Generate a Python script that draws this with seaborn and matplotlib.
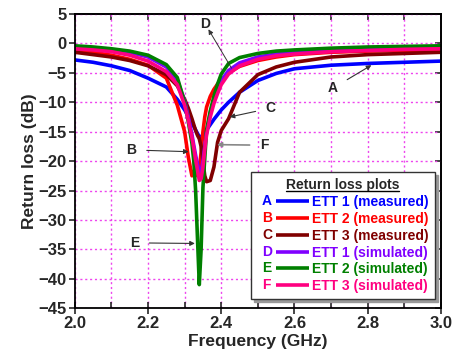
import matplotlib
matplotlib.use("Agg")
import matplotlib.pyplot as plt
import seaborn as sns
import pandas as pd
from matplotlib.lines import Line2D
from matplotlib.text import Text
from matplotlib.legend_handler import HandlerBase
from matplotlib.ticker import MultipleLocator

# ---------------- data ----------------
freq = [2.0, 2.05, 2.1, 2.15, 2.2, 2.25, 2.28, 2.3, 2.31, 2.32, 2.325, 2.33,
        2.335, 2.34, 2.345, 2.35, 2.355, 2.36, 2.37, 2.38, 2.39, 2.4, 2.42,
        2.45, 2.5, 2.55, 2.6, 2.7, 2.8, 2.9, 3.0]

ett1_meas = [-2.8, -3.2, -3.8, -4.6, -5.9, -7.4, -9.5, -11.3, -12.4, -13.5, -14.1, -14.7,
             -15.3, -15.8, -15.9, -15.6, -15.2, -14.7, -13.8, -12.9, -12.1, -11.3, -10.0,
             -8.3, -6.3, -5.1, -4.3, -3.7, -3.4, -3.2, -3.0]
ett2_meas = [-1.1, -1.5, -2.0, -2.7, -3.7, -5.9, -10.5, -15.0, -19.3, -22.5, -22.0, -21.0,
             -22.5, -21.5, -18.5, -15.0, -12.5, -10.8, -9.0, -7.8, -6.9, -6.3, -5.0,
             -3.9, -2.9, -2.3, -1.9, -1.5, -1.3, -1.2, -1.1]
ett3_meas = [-1.5, -1.9, -2.3, -2.9, -3.8, -5.3, -7.2, -9.5, -11.0, -12.8, -13.8, -14.8,
             -15.6, -16.2, -17.5, -20.0, -22.5, -23.5, -23.3, -21.0, -16.8, -14.8, -12.8,
             -8.3, -5.3, -4.0, -3.2, -2.3, -1.9, -1.7, -1.5]
ett1_sim = [-0.8, -0.9, -1.1, -1.5, -2.3, -4.0, -6.2, -9.8, -12.5, -15.5, -17.3, -19.0,
            -20.5, -21.8, -22.0, -20.0, -17.5, -15.0, -11.8, -9.5, -7.7, -6.3, -4.6,
            -3.3, -2.3, -1.8, -1.5, -1.1, -0.9, -0.8, -0.8]
ett2_sim = [-0.4, -0.6, -0.9, -1.3, -2.0, -3.6, -5.8, -10.0, -13.3, -17.0, -20.0, -25.0,
            -33.0, -41.0, -35.0, -24.5, -19.5, -14.7, -11.5, -9.0, -6.9, -5.2, -3.4,
            -2.4, -1.7, -1.3, -1.1, -0.8, -0.6, -0.5, -0.4]
ett3_sim = [-0.9, -1.1, -1.4, -2.0, -3.0, -4.8, -7.0, -10.5, -13.0, -16.0, -17.8, -19.8,
            -21.5, -23.3, -23.0, -21.0, -18.0, -15.5, -12.5, -10.2, -8.5, -7.0, -5.2,
            -3.8, -2.7, -2.1, -1.8, -1.4, -1.2, -1.0, -0.9]

letters = ["A", "B", "C", "D", "E", "F"]
labels = ["ETT 1 (measured)", "ETT 2 (measured)", "ETT 3 (measured)",
          "ETT 1 (simulated)", "ETT 2 (simulated)", "ETT 3 (simulated)"]
series = [ett1_meas, ett2_meas, ett3_meas, ett1_sim, ett2_sim, ett3_sim]
colors = ["#0000ff", "#ff0000", "#800000", "#8000ff", "#008000", "#ff0080"]

ann_letters = ["A", "B", "C", "D", "E", "F"]
ann_text_xy = [(2.705, -7.6), (2.155, -18.1), (2.535, -11.0), (2.355, 3.3), (2.163, -33.9), (2.517, -17.3)]
ann_point_xy = [(2.81, -3.7), (2.311, -18.4), (2.423, -12.5), (2.428, -4.2), (2.328, -34.0), (2.388, -17.2)]

# ---------------- style ----------------
sns.set_style("ticks")
plt.rcParams["font.family"] = ["Liberation Sans", "DejaVu Sans"]
plt.rcParams["font.weight"] = "bold"

fig = plt.figure(figsize=(4.56, 3.6), dpi=100)
ax = fig.add_axes([0.164, 0.144, 0.803, 0.817])

frames = []
for lab, vals in zip(labels, series):
    frames.append(pd.DataFrame({"Frequency": freq, "RL": vals, "series": lab}))
df = pd.concat(frames, ignore_index=True)

sns.lineplot(data=df, x="Frequency", y="RL", hue="series", hue_order=labels,
             palette=colors, linewidth=2.6, legend=False, ax=ax, sort=False)

ax.set_xlim(2.0, 3.0)
ax.set_ylim(-45, 5)
ax.xaxis.set_minor_locator(MultipleLocator(0.1))
ax.yaxis.set_major_locator(MultipleLocator(5))
ax.set_xticks([2.0, 2.2, 2.4, 2.6, 2.8, 3.0])
ax.set_xticklabels(["2.0", "2.2", "2.4", "2.6", "2.8", "3.0"])

ax.grid(True, which="both", axis="x", color="#ee44ee", linestyle=(0, (1.5, 2.0)), linewidth=1.0)
ax.grid(True, which="major", axis="y", color="#ee44ee", linestyle=(0, (1.5, 2.0)), linewidth=1.0)
ax.set_axisbelow(True)

for s in ax.spines.values():
    s.set_linewidth(1.3)
    s.set_color("black")

ax.tick_params(axis="x", which="major", direction="inout", length=8, width=1.2,
               labelsize=12, top=False, bottom=True, pad=2)
ax.tick_params(axis="x", which="minor", direction="in", length=4, width=1.2, top=False)
ax.tick_params(axis="y", which="major", direction="out", length=4, width=1.2,
               labelsize=12, right=False, pad=2)

axt = ax.secondary_xaxis("top")
axt.xaxis.set_major_locator(MultipleLocator(0.1))
axt.tick_params(direction="in", length=4, width=1.2, labeltop=False)
axt.spines["top"].set_linewidth(1.3)
axr = ax.secondary_yaxis("right")
axr.yaxis.set_major_locator(MultipleLocator(5))
axr.tick_params(direction="in", length=4, width=1.2, labelright=False)
axr.spines["right"].set_linewidth(1.3)

for lab in ax.get_xticklabels() + ax.get_yticklabels():
    lab.set_fontweight("bold")

ax.set_xlabel("Frequency (GHz)", fontsize=12.5, fontweight="bold", labelpad=2)
ax.set_ylabel("Return loss (dB)", fontsize=12.5, fontweight="bold", labelpad=1)

for let, txy, pxy in zip(ann_letters, ann_text_xy, ann_point_xy):
    if let == "D":
        ax.annotate("", xy=(txy[0] + 0.01, txy[1] - 0.9), xytext=pxy,
                    arrowprops=dict(arrowstyle="-|>", color="#333333", lw=0.7,
                                    mutation_scale=7, shrinkA=0, shrinkB=0))
        ax.text(txy[0], txy[1], let, fontsize=10, fontweight="bold", ha="center", va="center")
    else:
        col = "#888888" if let == "F" else "#333333"
        ax.annotate(let, xy=pxy, xytext=txy, fontsize=10, fontweight="bold",
                    ha="center", va="center",
                    arrowprops=dict(arrowstyle="-|>", color=col, lw=0.8 if let != "F" else 1.2,
                                    mutation_scale=7, shrinkA=5, shrinkB=0))


class LetterHandler(HandlerBase):
    def __init__(self, letter, color):
        super().__init__()
        self.letter = letter
        self.color = color

    def create_artists(self, legend, orig_handle, xdescent, ydescent, width, height,
                       fontsize, trans):
        y = height / 2 - ydescent
        t = Text(-xdescent + 3.6, y, self.letter, color=self.color, fontsize=fontsize,
                 fontweight="bold", ha="left", va="center", transform=trans)
        ln = Line2D([-xdescent + fontsize * 1.37, width - xdescent], [y, y], color=self.color,
                    lw=2.6, transform=trans, solid_capstyle="butt")
        return [t, ln]


handles = [Line2D([0], [0], color=c, lw=2.6) for c in colors]
hmap = {h: LetterHandler(l, c) for h, l, c in zip(handles, letters, colors)}
leg = ax.legend(handles, labels, handler_map=hmap, loc="lower right",
                bbox_to_anchor=(0.983, 0.03), fontsize=10, title="Return loss plots",
                title_fontsize=10, handlelength=3.75, handletextpad=0.2,
                labelspacing=0.2, borderpad=0.45, borderaxespad=0.0, frameon=True, fancybox=False,
                shadow={"color": "#999999", "alpha": 1.0, "ox": 2, "oy": -2},
                edgecolor="#333333", framealpha=1.0)
leg.get_frame().set_linewidth(1.0)
leg.get_title().set_fontweight("bold")
for txt, c in zip(leg.get_texts(), colors):
    txt.set_color(c)
    txt.set_fontweight("bold")

fig.canvas.draw()
bb = leg.get_title().get_window_extent().transformed(fig.transFigure.inverted())
fig.add_artist(Line2D([bb.x0, bb.x1], [bb.y0 + 0.004, bb.y0 + 0.004], color="black",
                      lw=1.0, transform=fig.transFigure))

fig.savefig("out.png", dpi=100)
